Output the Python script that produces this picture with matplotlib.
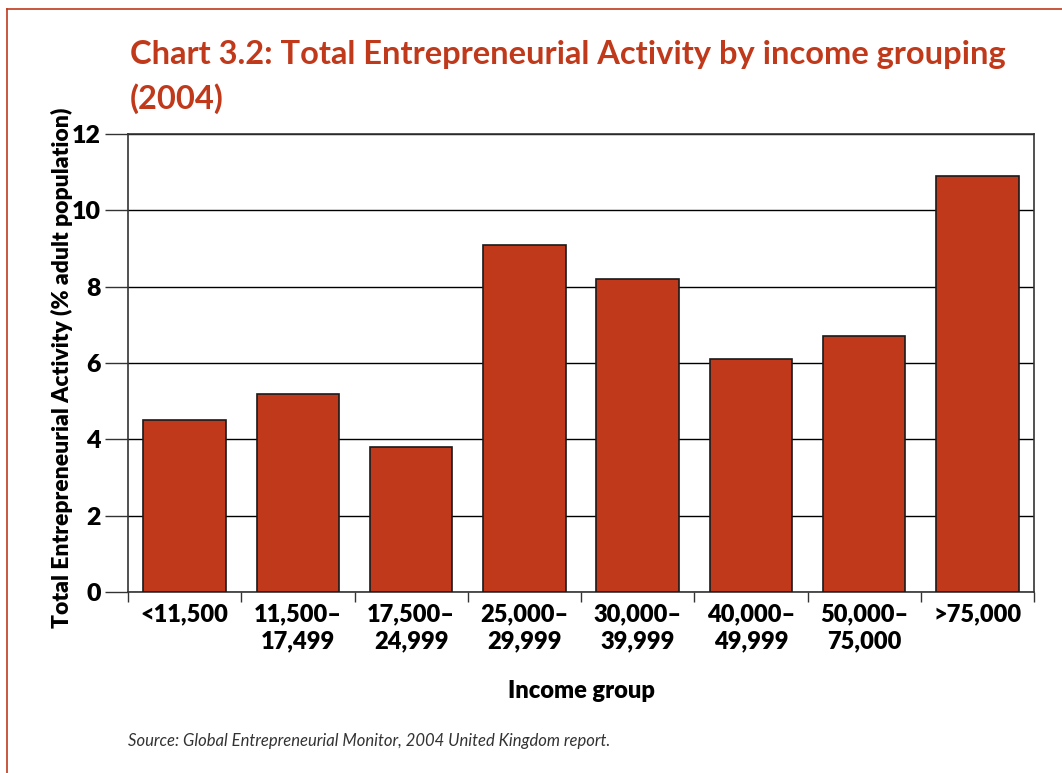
import matplotlib
matplotlib.use("Agg")
import matplotlib.pyplot as plt
from matplotlib.lines import Line2D
import numpy as np

plt.rcParams['font.family'] = ['Lato', 'DejaVu Sans']

categories = ['<11,500', '11,500–\n17,499', '17,500–\n24,999', '25,000–\n29,999',
              '30,000–\n39,999', '40,000–\n49,999', '50,000–\n75,000', '>75,000']
tea = [4.5, 5.2, 3.8, 9.1, 8.2, 6.1, 6.7, 10.9]
yticks = [0, 2, 4, 6, 8, 10, 12]

red = '#c0391b'

fig = plt.figure(figsize=(10.62, 7.73), dpi=100)
ax = fig.add_axes([128/1062, 1 - 592/773, (1034-128)/1062, (592-134)/773])

x = np.arange(len(tea))
ax.bar(x, tea, width=0.73, color=red, edgecolor='#1a1a1a', linewidth=1.2, zorder=3)

ax.set_xlim(-0.5, len(tea) - 0.5)
ax.set_ylim(0, 12)
ax.set_yticks(yticks)
ax.set_yticklabels([str(v) for v in yticks], fontsize=18, fontweight='heavy')
ax.yaxis.grid(True, color='black', linewidth=1.0, zorder=0)
# tick length/pad are in points (px * 0.72)
ax.tick_params(axis='y', length=16.5, width=1.0, pad=3, color='#333333')

# ticks sit between categories, labels under each bar
ax.set_xticks(np.arange(len(tea) + 1) - 0.5)
ax.set_xticklabels([''] * (len(tea) + 1))
ax.set_xticks(x, minor=True)
ax.set_xticklabels(categories, minor=True, fontsize=17, fontweight='heavy',
                   linespacing=1.3)
ax.tick_params(axis='x', which='major', length=7.5, width=1.0, color='#333333')
ax.tick_params(axis='x', which='minor', length=0, pad=8)

for s in ax.spines.values():
    s.set_color('#333333')
    s.set_linewidth(1.2)

ax.set_xlabel('Income group', fontsize=17, fontweight='heavy', labelpad=20)
ax.set_ylabel('Total Entrepreneurial Activity (% adult population)', fontsize=16.5,
              fontweight='heavy')
ax.yaxis.set_label_coords(-55/906, 0.49)

fig.text(130/1062, 1 - 77/773, 'Chart 3.2: Total Entrepreneurial Activity by income grouping\n(2004)',
         color=red, fontsize=23.5, fontweight='bold', va='center', ha='left', linespacing=1.55)

fig.text(128/1062, 1 - 741/773, 'Source: Global Entrepreneurial Monitor, 2004 United Kingdom report.',
         fontsize=12, style='italic', color='#333333', va='center', ha='left')

# page frame: top and left edges
fig.add_artist(Line2D([7/1062, 7/1062], [0, 1 - 9/773], color=red, linewidth=1.2,
                      transform=fig.transFigure))
fig.add_artist(Line2D([7/1062, 1], [1 - 9/773, 1 - 9/773], color=red, linewidth=1.2,
                      transform=fig.transFigure))

plt.savefig('out.png', dpi=100)
